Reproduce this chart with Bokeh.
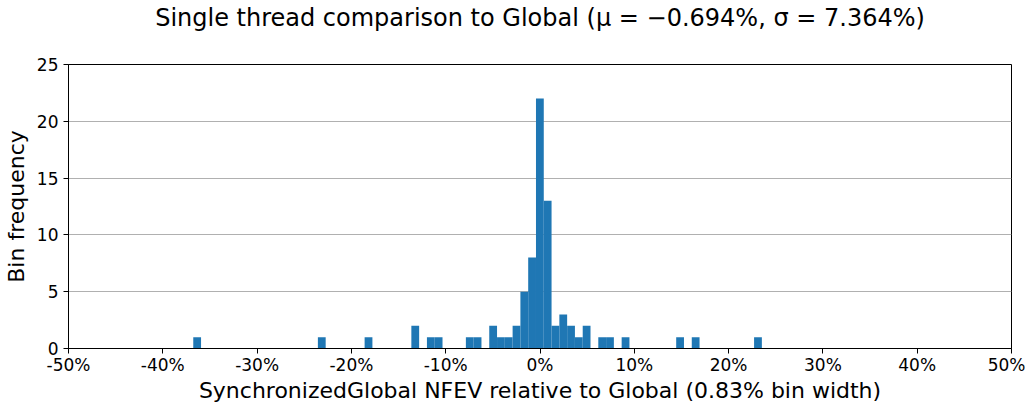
from bokeh.plotting import figure
from bokeh.models import FixedTicker, PrintfTickFormatter, Range1d, LinearAxis
from bokeh.embed import file_html
from bokeh.resources import INLINE

# histogram data
hist_start = -36.77      # % (left edge of first bin)
bin_width = 0.826        # %
counts = [1, 0, 0, 0, 0, 0, 0, 0, 0, 0,
          0, 0, 0, 0, 0, 0, 1, 0, 0, 0,
          0, 0, 1, 0, 0, 0, 0, 0, 2, 0,
          1, 1, 0, 0, 0, 1, 1, 0, 2, 1,
          1, 2, 5, 8, 22, 13, 2, 3, 2, 1,
          2, 0, 1, 1, 0, 1, 0, 0, 0, 0,
          0, 0, 1, 0, 1, 0, 0, 0, 0, 0,
          0, 0, 1]
x_ticks = [-50, -40, -30, -20, -10, 0, 10, 20, 30, 40, 50]
y_ticks = [0, 5, 10, 15, 20, 25]
x_limits = (-50, 50)
y_limits = (0, 25)
title = "Single thread comparison to Global (\u03bc = \u22120.694%, \u03c3 = 7.364%)"
xlabel = "SynchronizedGlobal NFEV relative to Global (0.83% bin width)"
ylabel = "Bin frequency"

lefts = [hist_start + i * bin_width for i in range(len(counts))]
rights = [l + bin_width for l in lefts]

FONT = "DejaVu Sans"
p = figure(width=1025, height=405, output_backend="svg", toolbar_location=None,
           title=None,
           x_range=Range1d(*x_limits), y_range=Range1d(*y_limits),
           min_border_left=67, min_border_right=14, min_border_top=62, min_border_bottom=57)

p.quad(left=lefts, right=rights, top=counts, bottom=0, fill_color="#1f77b4", line_color=None)

# title: drawn as the label of a bare axis (no ticks, no tick labels) above the frame
title_axis = LinearAxis(axis_label=title, ticker=FixedTicker(ticks=[]),
                        axis_line_color=None, major_tick_line_color=None,
                        minor_tick_line_color=None, major_tick_out=0, major_tick_in=0,
                        minor_tick_out=0, minor_tick_in=0,
                        major_label_standoff=0, axis_label_standoff=33,
                        axis_label_text_font=FONT, axis_label_text_font_size="24px",
                        axis_label_text_font_style="normal", axis_label_text_color="black")
p.add_layout(title_axis, "above")

xax = p.below[0]
yax = p.left[0]
xax.ticker = FixedTicker(ticks=x_ticks)
xax.formatter = PrintfTickFormatter(format="%d%%")
yax.ticker = FixedTicker(ticks=y_ticks)
for ax in (xax, yax):
    ax.major_label_text_font = FONT
    ax.major_label_text_font_size = "17px"
    ax.axis_label_text_font = FONT
    ax.axis_label_text_font_size = "22px"
    ax.axis_label_text_font_style = "normal"
    ax.axis_line_color = "black"
    ax.major_tick_line_color = "black"
    ax.major_tick_out = 5
    ax.major_tick_in = 0
    ax.minor_tick_line_color = None
    ax.major_label_text_color = "black"
    ax.axis_label_text_color = "black"
xax.axis_label = xlabel
yax.axis_label = ylabel
xax.major_label_standoff = 1
yax.major_label_standoff = 5
xax.axis_label_standoff = 0
yax.axis_label_standoff = 5

p.xgrid.grid_line_color = None
p.ygrid.grid_line_color = "#b0b0b0"
p.ygrid.ticker = FixedTicker(ticks=y_ticks)
p.outline_line_color = "black"
p.outline_line_alpha = 1
p.background_fill_color = "white"
p.border_fill_color = "white"

open("out.html", "w").write(file_html(p, INLINE))
